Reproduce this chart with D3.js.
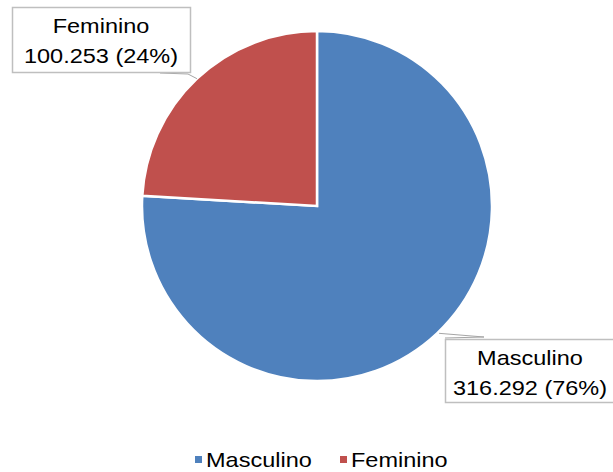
<!DOCTYPE html>
<html>
<head>
<meta charset="utf-8">
<script src="https://cdn.jsdelivr.net/npm/d3@7"></script>
<style>
  body { margin: 0; background: #fff; }
  text { font-family: "Liberation Sans", Arial, sans-serif; fill: #000; }
</style>
</head>
<body>
<div id="chart"></div>
<script>
var categories = ['Masculino', 'Feminino'];
var values = [316292, 100253];
var valueLabels = ['316.292', '100.253'];
var percentLabels = ['76%', '24%'];
var colours = ['#4F81BD', '#C0504D'];

var width = 613, height = 472;
var cx = 317, cy = 206, radius = 175;
var stretch = 1.12; // the source font runs a bit wider than Arial

var svg = d3.select('#chart')
    .append('svg')
    .attr('width', width)
    .attr('height', height);

var data = categories.map(function (c, i) {
    return { name: c, value: values[i], label: valueLabels[i] + ' (' + percentLabels[i] + ')', colour: colours[i] };
});

var pie = d3.pie()
    .sort(null)
    .value(function (d) { return d.value; });

var arc = d3.arc().innerRadius(0).outerRadius(radius);
var edgeArc = d3.arc().innerRadius(radius).outerRadius(radius);

var g = svg.append('g')
    .attr('transform', 'translate(' + cx + ',' + cy + ')');

var slices = pie(data);

g.selectAll('path')
    .data(slices)
    .join('path')
    .attr('d', arc)
    .attr('fill', function (d) { return d.data.colour; })
    .attr('stroke', '#fff')
    .attr('stroke-width', 2.5)
    .attr('stroke-linejoin', 'miter');

// label boxes (placed like the Excel data labels)
var boxes = [
    { x: 445, y: 339, w: 170, h: 63, knee: [484, 337] },
    { x: 12, y: 7, w: 178, h: 65, knee: [188, 74] }
];

slices.forEach(function (s, i) {
    var b = boxes[i];
    var p = edgeArc.centroid(s);
    var px = cx + p[0], py = cy + p[1];
    var leader;
    if (i === 0) {
        leader = [[px + 2, py], b.knee, [b.x, b.knee[1] + 1]];
    } else {
        leader = [[px, py], b.knee, [b.x + b.w - 30, b.y + b.h + 1]];
    }
    svg.append('path')
        .attr('d', d3.line()(leader))
        .attr('fill', 'none')
        .attr('stroke', '#A6A6A6')
        .attr('stroke-width', 1);

    svg.append('rect')
        .attr('x', b.x + 0.5)
        .attr('y', b.y + 0.5)
        .attr('width', b.w)
        .attr('height', b.h)
        .attr('fill', '#fff')
        .attr('stroke', '#BFBFBF')
        .attr('stroke-width', 1.5);

    var mid = b.x + b.w / 2;
    var t = svg.append('g')
        .attr('transform', 'translate(' + mid + ',0) scale(' + stretch + ',1)')
        .append('text')
        .attr('text-anchor', 'middle')
        .style('font-size', '21px');
    t.append('tspan')
        .attr('x', 0)
        .attr('y', b.y + 26)
        .text(s.data.name);
    t.append('tspan')
        .attr('x', 0)
        .attr('y', b.y + 56)
        .text(s.data.label);
});

// legend
var legendX = [195, 340];
var legend = svg.append('g');
data.forEach(function (d, i) {
    legend.append('rect')
        .attr('x', legendX[i])
        .attr('y', 456)
        .attr('width', 7)
        .attr('height', 7)
        .attr('fill', d.colour);
    legend.append('g')
        .attr('transform', 'translate(' + (legendX[i] + 11) + ',0) scale(' + stretch + ',1)')
        .append('text')
        .attr('x', 0)
        .attr('y', 467)
        .style('font-size', '21px')
        .text(d.name);
});
</script>
</body>
</html>
